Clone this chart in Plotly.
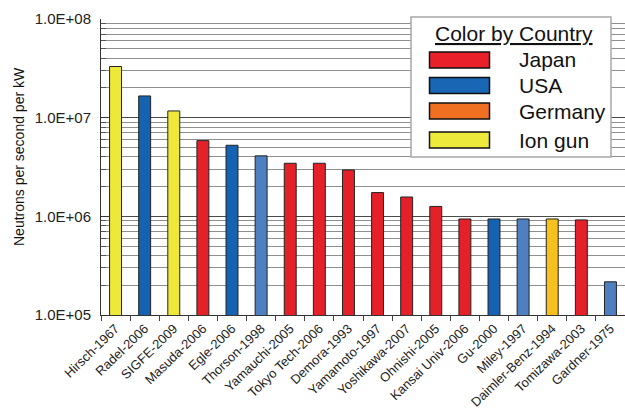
import plotly.graph_objects as go

# ---- data ----
labels = ["Hirsch-1967", "Radel-2006", "SIGFE-2009", "Masuda-2006", "Egle-2006",
          "Thorson-1998", "Yamauchi-2005", "Tokyo Tech-2006", "Demora-1993",
          "Yamamoto-1997", "Yoshikawa-2007", "Ohnishi-2005", "Kansai Univ-2006",
          "Gu-2000", "Miley-1997", "Daimler-Benz-1994", "Tomizawa-2003", "Gardner-1975"]
values = [3.3e7, 1.66e7, 1.17e7, 5.85e6, 5.25e6, 4.1e6, 3.45e6, 3.45e6, 2.95e6,
          1.74e6, 1.57e6, 1.26e6, 9.4e5, 9.4e5, 9.4e5, 9.4e5, 9.2e5, 2.17e5]
bar_colors = ["#eee83a", "#1563b0", "#eee83a", "#e42128", "#1563b0",
              "#4e7fc0", "#e42128", "#e42128", "#e42128",
              "#e42128", "#e42128", "#e42128", "#e42128",
              "#1563b0", "#4e7fc0", "#f6c01f", "#e42128", "#4e7fc0"]
legend_names = ["Japan", "USA", "Germany", "Ion gun"]
legend_colors = ["#e8202a", "#1866b4", "#f07021", "#eeea3c"]
ytick_vals = [1e5, 1e6, 1e7, 1e8]
ytick_text = ["1.0E+05", "1.0E+06", "1.0E+07", "1.0E+08"]

FONT = "Arial, Liberation Sans, sans-serif"
W, H = 625, 414
L, R, T, B = 101, 0, 19, 99
pw, ph = W - L - R, H - T - B

def px(x):
    return (x - L) / pw

def py(y):
    return (H - B - y) / ph

fig = go.Figure(go.Bar(
    x=labels, y=values,
    marker=dict(color=bar_colors, line=dict(color="#222222", width=1)),
    showlegend=False,
))

minor_vals = [m * 10 ** e for e in range(5, 8) for m in range(2, 10)]

fig.update_layout(
    width=W, height=H,
    margin=dict(l=L, r=R, t=T, b=B, autoexpand=False),
    paper_bgcolor="white", plot_bgcolor="white",
    font=dict(family=FONT, color="#222222"),
    bargap=0.59,
    xaxis=dict(
        type="category", range=[-0.5, len(labels) - 0.5], automargin=False,
        tickangle=-44, tickfont=dict(size=13, family=FONT, color="#222"),
        ticks="outside", ticklen=5, tickson="boundaries", tickcolor="#444",
        showline=True, linecolor="#333", linewidth=1, showgrid=False,
    ),
    yaxis=dict(
        type="log", range=[5, 8], automargin=False,
        tickvals=ytick_vals, ticktext=ytick_text,
        tickfont=dict(size=15, family=FONT, color="#222"),
        ticklabelstandoff=6,
        ticks="inside", ticklen=7, tickcolor="#333",
        showline=True, linecolor="#333", linewidth=1,
        showgrid=True, gridcolor="#4a4a4a", gridwidth=1,
        minor=dict(tickvals=minor_vals, ticks="inside", ticklen=5, tickcolor="#555",
                   showgrid=True, gridcolor="#8f8f8f", gridwidth=1),
        zeroline=False,
    ),
)

# Y-axis title
fig.add_annotation(text="Neutrons per second per kW", xref="paper", yref="paper",
                   x=px(19), y=py(157), textangle=-90, showarrow=False,
                   xanchor="center", yanchor="middle",
                   font=dict(size=14, family=FONT, color="#111"))

# Legend box
shapes = [dict(type="rect", xref="paper", yref="paper",
               x0=px(411), x1=px(611), y0=py(157), y1=py(17),
               fillcolor="white", line=dict(color="#a8a8a8", width=1.5), layer="above")]
fig.add_annotation(text="<u>Color by Country</u>", xref="paper", yref="paper",
                   x=px(514), y=py(34), showarrow=False,
                   xanchor="center", yanchor="middle",
                   font=dict(size=21, family=FONT, color="#111"))
sw_y = [60, 85.5, 111, 140]
for name, col, yc in zip(legend_names, legend_colors, sw_y):
    shapes.append(dict(type="rect", xref="paper", yref="paper",
                       x0=px(429.5), x1=px(489.5), y0=py(yc + 8), y1=py(yc - 8),
                       fillcolor=col, line=dict(color="#111", width=1.5), layer="above"))
    fig.add_annotation(text=name, xref="paper", yref="paper",
                       x=px(517), y=py(yc), xanchor="left", yanchor="middle",
                       showarrow=False,
                       font=dict(size=21, family=FONT, color="#111"))
fig.update_layout(shapes=shapes)

fig.write_html("out.html", config={"displayModeBar": False},
               post_script="document.body.style.margin='0';")
